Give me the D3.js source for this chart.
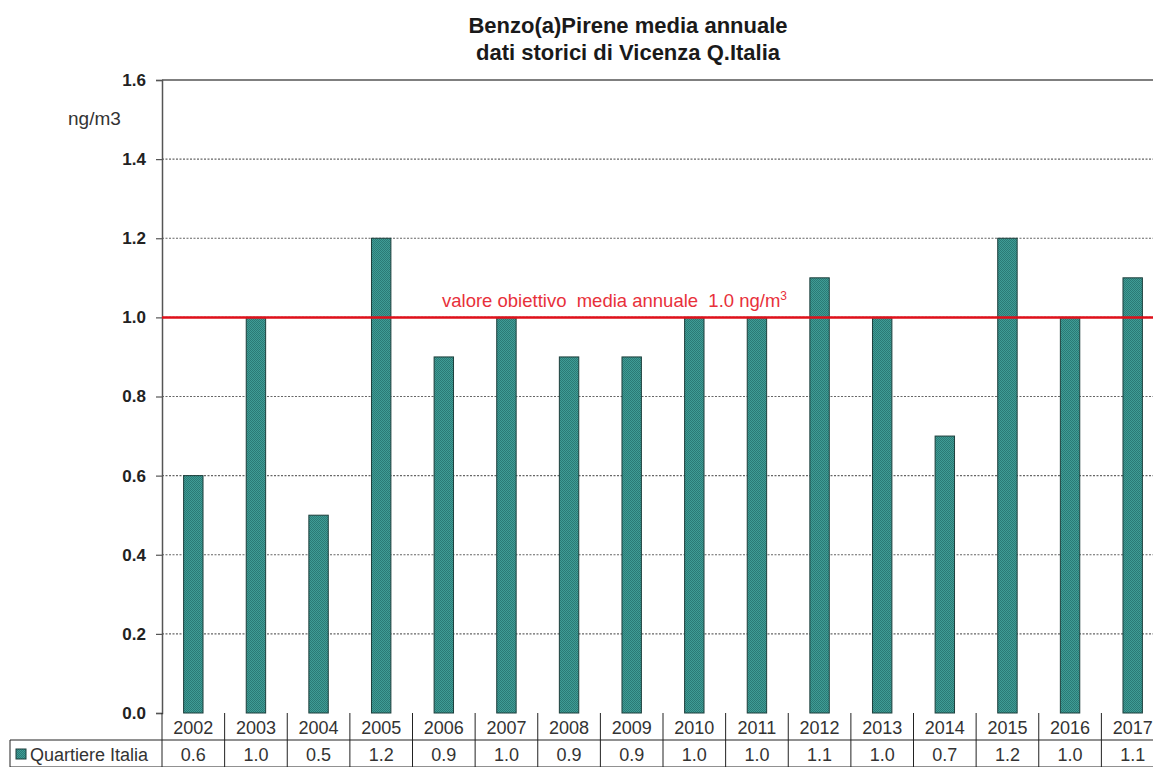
<!DOCTYPE html>
<html>
<head>
<meta charset="utf-8">
<script src="https://cdn.jsdelivr.net/npm/d3@7"></script>
<style>
  body { margin: 0; background: #fff; }
  svg { display: block; font-family: "Liberation Sans", Arial, sans-serif; }
</style>
</head>
<body>
<div id="chart"></div>
<script>
// Data
const years = ["2002", "2003", "2004", "2005", "2006", "2007", "2008", "2009",
               "2010", "2011", "2012", "2013", "2014", "2015", "2016", "2017"];
const values = [0.6, 1.0, 0.5, 1.2, 0.9, 1.0, 0.9, 0.9, 1.0, 1.0, 1.1, 1.0, 0.7, 1.2, 1.0, 1.1];
const yTicks = [0, 0.2, 0.4, 0.6, 0.8, 1.0, 1.2, 1.4, 1.6];
const seriesName = "Quartiere Italia";
const targetValue = 1.0;

// Dimensions
const W = 1153, H = 767;
const margin = {top: 80, right: -11, bottom: 54, left: 162};
const plotW = W - margin.left - margin.right;
const plotH = H - margin.top - margin.bottom;

const svg = d3.select("#chart").append("svg")
    .attr("width", W)
    .attr("height", H);

// Checker pattern for bars
const defs = svg.append("defs");
const pat = defs.append("pattern")
    .attr("id", "checker")
    .attr("width", 2).attr("height", 2)
    .attr("patternUnits", "userSpaceOnUse");
pat.append("rect").attr("width", 2).attr("height", 2).attr("fill", "#3f9d96");
pat.append("rect").attr("width", 1).attr("height", 1).attr("fill", "#2b7a75");
pat.append("rect").attr("x", 1).attr("y", 1).attr("width", 1).attr("height", 1).attr("fill", "#2b7a75");

const g = svg.append("g")
    .attr("transform", `translate(${margin.left},${margin.top})`);

// Scales
const x = d3.scaleBand()
    .domain(years)
    .range([0, plotW])
    .paddingInner(0.69)
    .paddingOuter(0.345);

const y = d3.scaleLinear()
    .domain([0, 1.6])
    .range([plotH, 0]);

// Gridlines
g.append("g")
    .selectAll("line")
    .data(yTicks.filter(d => d > 0 && d < 1.6))
    .join("line")
    .attr("x1", 0).attr("x2", plotW)
    .attr("y1", d => y(d)).attr("y2", d => y(d))
    .attr("stroke", "#666")
    .attr("stroke-width", 1.2)
    .attr("stroke-dasharray", "2,1.5");

// Top border
g.append("line")
    .attr("x1", 0).attr("x2", plotW)
    .attr("y1", y(1.6)).attr("y2", y(1.6))
    .attr("stroke", "#555").attr("stroke-width", 1.5);

// Y axis
const yAxis = g.append("g")
    .call(d3.axisLeft(y).tickValues(yTicks).tickFormat(d3.format(".1f")).tickSize(6).tickPadding(10));
yAxis.select(".domain").attr("stroke", "#555").attr("stroke-width", 1.5);
yAxis.selectAll(".tick line").attr("stroke", "#555").attr("stroke-width", 1.2);
yAxis.selectAll(".tick text")
    .attr("font-size", 17)
    .attr("font-weight", "bold")
    .attr("fill", "#222");

// Unit label
svg.append("text")
    .attr("x", 68)
    .attr("y", 125)
    .attr("font-size", 19)
    .attr("fill", "#333")
    .text("ng/m3");

// Bars
g.append("g")
    .selectAll("rect")
    .data(values)
    .join("rect")
    .attr("x", (d, i) => x(years[i]))
    .attr("y", d => y(d))
    .attr("width", x.bandwidth())
    .attr("height", d => y(0) - y(d))
    .attr("fill", "url(#checker)")
    .attr("stroke", "#1d3f3c")
    .attr("stroke-width", 1);

// Target line
g.append("line")
    .attr("x1", 0).attr("x2", plotW)
    .attr("y1", y(targetValue)).attr("y2", y(targetValue))
    .attr("stroke", "#e0101a")
    .attr("stroke-width", 2.5);

const target = g.append("text")
    .attr("x", 442 - margin.left)
    .attr("y", y(targetValue) - 10)
    .attr("font-size", 18.5)
    .attr("fill", "#e8303a")
    .style("white-space", "pre")
    .text("valore obiettivo  media annuale  1.0 ng/m");
target.append("tspan")
    .attr("dy", -7)
    .attr("font-size", 12)
    .text("3");

// Title
const title = svg.append("text")
    .attr("text-anchor", "middle")
    .attr("font-size", 22)
    .attr("font-weight", "bold")
    .attr("fill", "#1a1a1a");
title.append("tspan").attr("x", 628).attr("y", 33).text("Benzo(a)Pirene media annuale");
title.append("tspan").attr("x", 628).attr("y", 60).text("dati storici di Vicenza Q.Italia");

// Data table
const rowH = 27;
const table = g.append("g").attr("transform", `translate(0,${plotH})`);
const step = x.step();
const colX = i => i * step;

// year row
table.selectAll(".yr")
    .data(years)
    .join("text")
    .attr("x", (d, i) => colX(i) + step / 2)
    .attr("y", rowH / 2 + 7)
    .attr("text-anchor", "middle")
    .attr("font-size", 18)
    .attr("fill", "#333")
    .text(d => d);

// value row
table.selectAll(".val")
    .data(values)
    .join("text")
    .attr("x", (d, i) => colX(i) + step / 2)
    .attr("y", rowH + rowH / 2 + 7)
    .attr("text-anchor", "middle")
    .attr("font-size", 18)
    .attr("fill", "#333")
    .text(d => d3.format(".1f")(d));

// table grid
const gridStroke = "#222";
table.append("line")
    .attr("x1", -152).attr("x2", plotW)
    .attr("y1", rowH).attr("y2", rowH)
    .attr("stroke", gridStroke);
table.append("line")
    .attr("x1", -152).attr("x2", plotW)
    .attr("y1", 2 * rowH).attr("y2", 2 * rowH)
    .attr("stroke", gridStroke);
table.selectAll(".vline")
    .data(d3.range(years.length + 1))
    .join("line")
    .attr("x1", i => colX(i)).attr("x2", i => colX(i))
    .attr("y1", 0).attr("y2", 2 * rowH)
    .attr("stroke", gridStroke);
table.append("line")
    .attr("x1", -152).attr("x2", -152)
    .attr("y1", rowH).attr("y2", 2 * rowH)
    .attr("stroke", gridStroke);

// legend key in table
table.append("rect")
    .attr("x", -146)
    .attr("y", rowH + 9)
    .attr("width", 10).attr("height", 10)
    .attr("fill", "url(#checker)")
    .attr("stroke", "#1d3f3c");
table.append("text")
    .attr("x", -132)
    .attr("y", rowH + rowH / 2 + 7)
    .attr("font-size", 18)
    .attr("fill", "#333")
    .text(seriesName);
</script>
</body>
</html>
